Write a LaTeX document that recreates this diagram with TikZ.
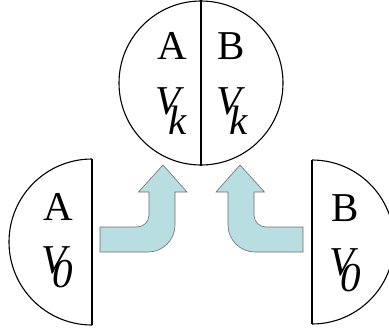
\documentclass[tikz,border=0pt]{standalone}
\usepackage{fontspec}
\setmainfont{Liberation Serif}
\definecolor{arrowfill}{RGB}{184,222,225}
\definecolor{arrowedge}{RGB}{110,110,110}
\tikzset{
  shapeline/.style={draw=black, line width=1.1pt},
  bigarrow/.style={fill=arrowfill, draw=arrowedge, line width=0.6pt},
  lbl/.style={inner sep=0pt, font=\fontsize{41}{41}\selectfont},
  ilbl/.style={inner sep=0pt, font=\fontsize{41}{41}\selectfont\itshape, anchor=base west},
}
\newcommand\withsub[3]{V\kern#1pt\raisebox{#2pt}{#3}}
\begin{document}
\begin{tikzpicture}[x=1pt,y=-1pt]
\path[use as bounding box] (0,0) rectangle (389,330);
\fill[white] (0,0) rectangle (389,330);
% top circle
\node[circle, shapeline, minimum size=164pt, inner sep=0pt] (top) at (201,83) {};
\draw[shapeline] (top.north) -- (top.south);
% left half disk
\coordinate (lc) at (92,242);
\begin{scope}
  \clip (0,0) rectangle (92,330);
  \draw[shapeline] (lc) circle[radius=83pt];
\end{scope}
\draw[shapeline] (92,159) -- (92,325);
% right half disk
\coordinate (rc) at (312,242);
\begin{scope}
  \clip (312,0) rectangle (389,330);
  \draw[shapeline] (rc) circle[radius=82pt];
\end{scope}
\draw[shapeline] (312,160) -- (312,324);
% arrows
\newcommand\bentarrowpath{(100,227) -- (137,227) .. controls (143.6,227) and (149,221.6) .. (149,215) -- (149,192) -- (138.5,192) -- (163,165) -- (187,192) -- (175,192) -- (175,225) .. controls (175,239.9) and (162.9,252) .. (148,252) -- (100,252) -- cycle}
\path[bigarrow] \bentarrowpath;
\begin{scope}[xshift=403, xscale=-1]
  \path[bigarrow] \bentarrowpath;
\end{scope}
% labels top
\node[lbl, anchor=base] (tA) at (172,59) {A};
\node[lbl, anchor=base] (tB) at (231,59) {B};
\node[ilbl] (tVa) at (155,114) {\withsub{-12}{-20}{k}};
\node[ilbl] (tVb) at (216,114) {\withsub{-12}{-20}{k}};
% labels bottom left
\node[lbl, anchor=base] (lA) at (58.5,220) {A};
\node[ilbl] (lV) at (41,273) {\withsub{-14}{-14}{0}};
% labels bottom right
\node[lbl, anchor=base] (rB) at (345,221) {B};
\node[ilbl] (rV) at (329,275) {\withsub{-14}{-16}{0}};
\end{tikzpicture}
\end{document}
